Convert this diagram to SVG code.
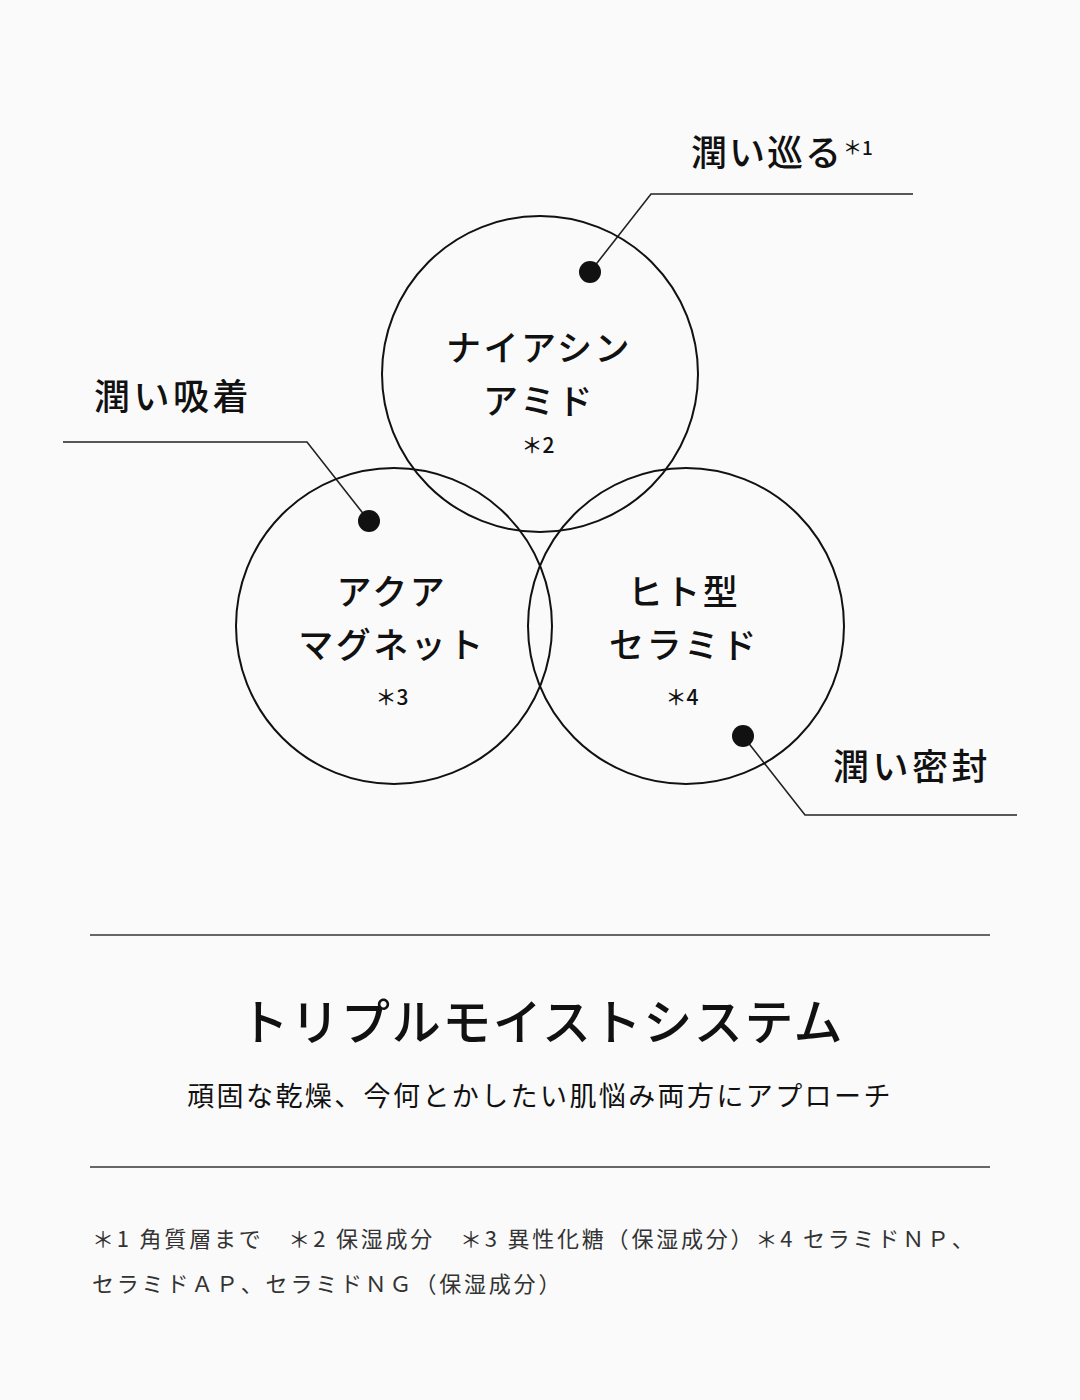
<svg xmlns="http://www.w3.org/2000/svg" width="1080" height="1400" viewBox="0 0 1080 1400">
<style>
.bg{fill:#fafafa}
.circ{fill:none;stroke:#111;stroke-width:2}
.dot{fill:#111}
.lead{fill:none;stroke:#222;stroke-width:1.6}
.rule{stroke:#666;stroke-width:2}
.lbl{font-family:"Noto Sans CJK JP","Noto Sans CJK SC",sans-serif;font-weight:500;font-size:36px;letter-spacing:3.5px;fill:#111}
.lbl2{letter-spacing:2px}
.ctext{font-family:"Noto Sans CJK JP","Noto Sans CJK SC",sans-serif;font-weight:500;font-size:35px;letter-spacing:2.5px;fill:#111;text-anchor:middle}
.note{font-family:"Noto Sans CJK JP","Noto Sans CJK SC",sans-serif;font-weight:500;font-size:21px;fill:#111;text-anchor:middle}
.sup{font-family:"Noto Sans CJK JP","Noto Sans CJK SC",sans-serif;font-weight:500;font-size:19px;fill:#111}
.title{font-family:"Noto Sans CJK JP","Noto Sans CJK SC",sans-serif;font-weight:500;font-size:49px;letter-spacing:1.6px;fill:#111;text-anchor:middle}
.sub{font-family:"Noto Sans CJK JP","Noto Sans CJK SC",sans-serif;font-weight:400;font-size:27px;letter-spacing:2.4px;fill:#111;text-anchor:middle}
.foot{font-family:"Noto Sans CJK JP","Noto Sans CJK SC",sans-serif;font-weight:400;font-size:22px;letter-spacing:2.8px;fill:#333}
</style>
<rect class="bg" x="0" y="0" width="1080" height="1400"/>

<g id="connectors">
<polyline class="lead" points="590,272 651,194 913,194"/>
<polyline class="lead" points="369,521 307,442 63,442"/>
<polyline class="lead" points="743,736 805,815 1017,815"/>
</g>

<g id="node-niacinamide">
<circle class="circ" cx="540" cy="374" r="158"/>
<text class="ctext" x="539" y="361">ナイアシン</text>
<text class="ctext" x="539" y="414">アミド</text>
<text class="note" x="538" y="453">＊2</text>
<circle class="dot" cx="590" cy="272" r="11"/>
</g>

<g id="node-aquamagnet">
<circle class="circ" cx="394" cy="626" r="158"/>
<text class="ctext" x="392" y="605">アクア</text>
<text class="ctext" x="392" y="658">マグネット</text>
<text class="note" x="392" y="705">＊3</text>
<circle class="dot" cx="369" cy="521" r="11"/>
</g>

<g id="node-ceramide">
<circle class="circ" cx="686" cy="626" r="158"/>
<text class="ctext" x="684" y="605">ヒト型</text>
<text class="ctext" x="684" y="658">セラミド</text>
<text class="note" x="682" y="705">＊4</text>
<circle class="dot" cx="743" cy="736" r="11"/>
</g>

<g id="label-meguru">
<text class="lbl lbl2" x="691" y="166">潤い巡る</text>
<text class="sup" x="843" y="155">＊1</text>
</g>
<g id="label-kyuchaku">
<text class="lbl" x="94" y="410">潤い吸着</text>
</g>
<g id="label-mippu">
<text class="lbl" x="833" y="780">潤い密封</text>
</g>

<g id="summary">
<line class="rule" x1="90" y1="935" x2="990" y2="935"/>
<text class="title" x="542" y="1040">トリプルモイストシステム</text>
<text class="sub" x="540" y="1106">頑固な乾燥、今何とかしたい肌悩み両方にアプローチ</text>
<line class="rule" x1="90" y1="1167" x2="990" y2="1167"/>
<text class="foot" x="92" y="1247">＊1 角質層まで　＊2 保湿成分　＊3 異性化糖（保湿成分）＊4 セラミドＮＰ、</text>
<text class="foot" x="92" y="1292">セラミドＡＰ、セラミドＮＧ（保湿成分）</text>
</g>
</svg>
